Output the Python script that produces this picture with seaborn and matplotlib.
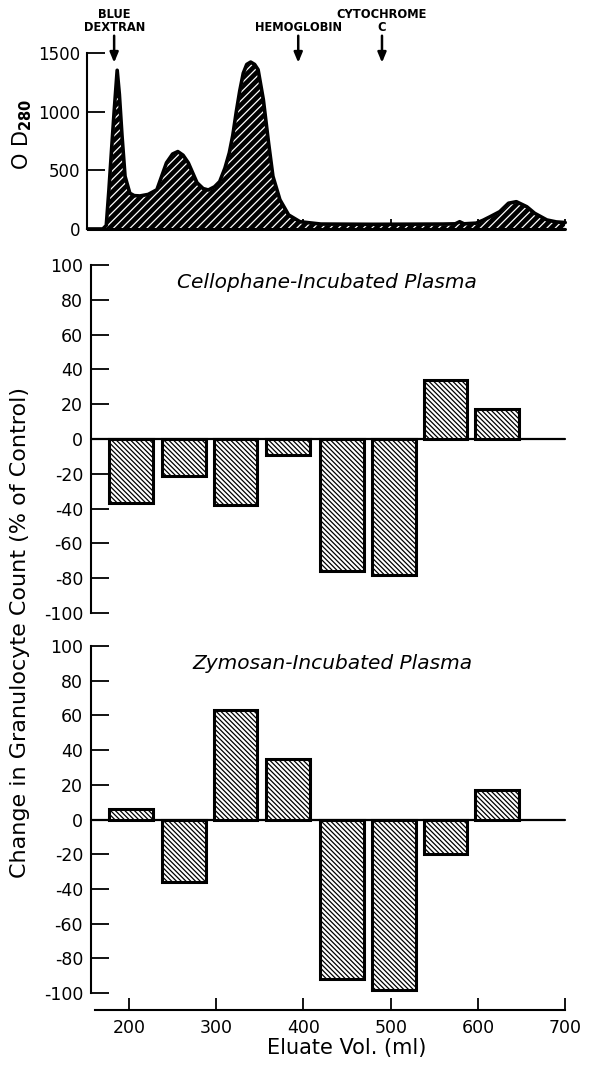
import matplotlib
matplotlib.use("Agg")
import matplotlib.pyplot as plt
import numpy as np
import pandas as pd
import seaborn as sns

# gel filtration profile (OD 280)
od_vol = [152, 170, 174, 177, 180, 183, 186.5, 189, 192, 195.5, 201, 206, 212.5, 222,
          232, 243, 250, 256, 262, 268, 278, 285, 291, 298, 304, 310, 315, 319, 323,
          327, 331, 335, 339.5, 344, 348, 354, 360, 365, 373, 383, 396, 420, 480, 560,
          574, 579, 584, 598, 606, 614, 625, 635, 644, 656, 665, 679, 690, 700]
od_val = [0, 0, 30, 330, 670, 1000, 1355, 1150, 800, 450, 305, 285, 282, 295,
          335, 565, 640, 661, 630, 565, 395, 345, 333, 360, 405, 520, 650, 800, 1000,
          1180, 1330, 1405, 1425, 1405, 1360, 1105, 735, 450, 250, 120, 62, 42, 40, 42,
          44, 62, 44, 50, 75, 105, 148, 220, 233, 190, 134, 77, 60, 55]

# marker proteins (first line, second line)
marker_top = ["BLUE", "", "CYTOCHROME"]
marker_bottom = ["DEXTRAN", "HEMOGLOBIN", "C"]
marker_vol = [183, 394, 490]

# fraction pools (bar centres, ml) and granulocyte response
pool_vol = [202, 263, 322, 382, 444, 504, 563, 622]
cellophane = [-37, -21, -38, -9, -76, -78, 34, 17]
zymosan = [6, -36, 63, 35, -92, -98, -20, 17]

sns.set_style("ticks")
plt.rcParams["font.family"] = ["DejaVu Sans"]
plt.rcParams.update({
    "text.color": "black", "axes.labelcolor": "black", "axes.edgecolor": "black",
    "xtick.color": "black", "ytick.color": "black", "axes.unicode_minus": False,
    "hatch.linewidth": 0.9,
})

fig = plt.figure(figsize=(5.89, 10.68), dpi=100)
xlim = (151.9, 711.2)
ax0 = fig.add_axes([0.1477, 0.780, 0.8285, 0.178])
ax1 = fig.add_axes([0.1477, 0.4179, 0.8285, 0.3421])
ax2 = fig.add_axes([0.1477, 0.0507, 0.8285, 0.3525])

# --- top: elution profile ---
prof = pd.DataFrame({"vol": od_vol, "od": od_val})
ax0.fill_between(prof.vol, 0, prof.od, facecolor="black", zorder=3)
ax0.fill_between(prof.vol, 0, prof.od, facecolor="none", hatch="////",
                 edgecolor="white", linewidth=0, zorder=3)
sns.lineplot(data=prof, x="vol", y="od", color="black", lw=2.6, ax=ax0, zorder=4)
ax0.plot([152, 700], [0, 0], color="black", lw=2.2, zorder=4)
ax0.set_xlim(*xlim)
ax0.set_ylim(-51, 1572)
ax0.set_yticks([0, 500, 1000, 1500])
ax0.set_xticks([200, 300, 400, 500, 600, 700])
ax0.spines["left"].set_bounds(0, 1500)
ax0.spines["bottom"].set_position(("data", 0))
ax0.spines["bottom"].set_bounds(152, 700)
ax0.spines["bottom"].set_linewidth(1.5)
ax0.spines["left"].set_linewidth(1.5)
sns.despine(ax=ax0)
ax0.tick_params(axis="y", direction="in", length=13, width=1.3, pad=5, labelsize=12)
ax0.tick_params(axis="x", direction="in", length=7, width=1.3, labelbottom=False)
ax0.set_xlabel("")
ax0.set_ylabel("")
for top, bottom, v in zip(marker_top, marker_bottom, marker_vol):
    ax0.annotate("", xy=(v, 1420), xytext=(v, 1650), annotation_clip=False,
                 arrowprops=dict(arrowstyle="-|>,head_width=0.25,head_length=0.6",
                                 color="black", lw=1.8, shrinkA=0, shrinkB=0))
    ax0.text(v, 1830, top, ha="center", va="center", fontsize=8.3,
             fontweight="bold", clip_on=False)
    ax0.text(v, 1720, bottom, ha="center", va="center", fontsize=8.3,
             fontweight="bold", clip_on=False)
fig.text(0.037, 1 - 134 / 1068, r"O D$_{\mathbf{280}}$", rotation=90,
         ha="center", va="center", fontsize=15)


# --- bar panels ---
def bar_panel(ax, vals, title, title_x):
    df = pd.DataFrame({"vol": pool_vol, "change": vals})
    sns.barplot(data=df, x="vol", y="change", native_scale=True, width=50 / 59,
                color="white", edgecolor="black", linewidth=2.2, saturation=1,
                errorbar=None, ax=ax, zorder=3)
    for p in ax.patches:
        p.set_hatch("\\\\\\\\\\\\\\")
        p.set_facecolor("white")
    ax.plot([157, 700], [0, 0], color="black", lw=1.6, zorder=2)
    ax.set_xlim(*xlim)
    ax.set_yticks(np.arange(-100, 101, 20))
    ax.spines["left"].set_position(("data", 157))
    ax.spines["left"].set_bounds(-100, 100)
    ax.spines["left"].set_linewidth(1.5)
    ax.tick_params(axis="y", direction="in", length=13, width=1.3, pad=6, labelsize=12.5)
    ax.set_xlabel("")
    ax.set_ylabel("")
    ax.text(title_x, 90, title, ha="center", va="center", fontsize=14.5,
            style="italic")


bar_panel(ax1, cellophane, "Cellophane-Incubated Plasma", 427)
ax1.set_ylim(-105, 105)
sns.despine(ax=ax1, bottom=True)
ax1.tick_params(axis="x", bottom=False, labelbottom=False)

bar_panel(ax2, zymosan, "Zymosan-Incubated Plasma", 433)
ax2.set_ylim(-112, 105)
sns.despine(ax=ax2)
ax2.spines["bottom"].set_position(("data", -110))
ax2.spines["bottom"].set_bounds(161, 700)
ax2.spines["bottom"].set_linewidth(1.5)
ax2.set_xticks([200, 300, 400, 500, 600, 700])
ax2.set_xticklabels(["200", "300", "400", "500", "600", "700"])
ax2.tick_params(axis="x", direction="in", length=9, width=1.3, pad=6, labelsize=12.5)
ax2.set_xlim(*xlim)

fig.text(347 / 589, 1 - 1048 / 1068, "Eluate Vol. (ml)", ha="center", va="center",
         fontsize=15)
fig.text(20 / 589, 1 - 632 / 1068, "Change in Granulocyte Count (% of Control)",
         rotation=90, ha="center", va="center", fontsize=16)

fig.savefig("out.png", dpi=100)
